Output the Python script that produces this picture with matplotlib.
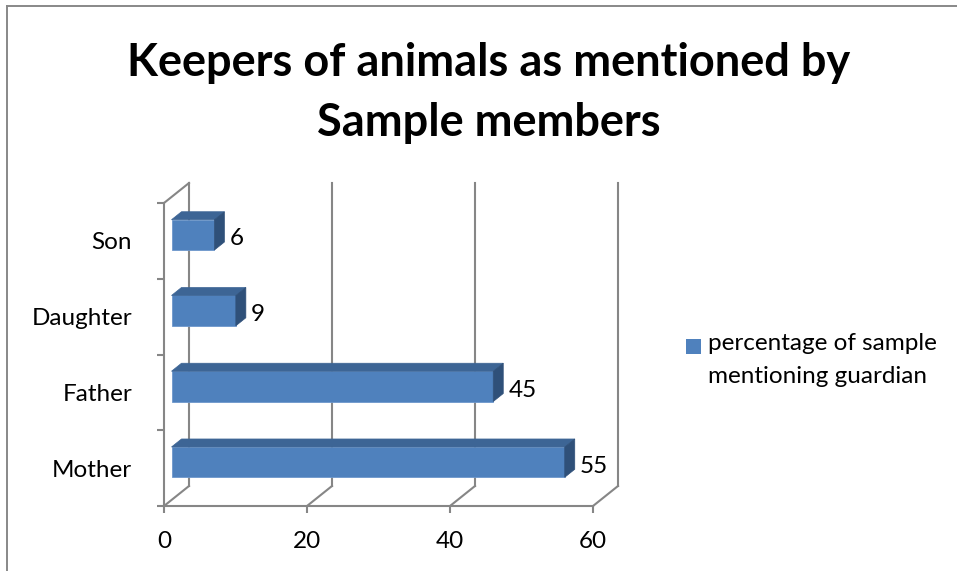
import matplotlib
matplotlib.use('Agg')
import matplotlib.pyplot as plt
from matplotlib.patches import Polygon, Rectangle
from matplotlib.lines import Line2D

categories = ['Mother', 'Father', 'Daughter', 'Son']
values = [55, 45, 9, 6]
series_name = 'percentage of sample\nmentioning guardian'
title = 'Keepers of animals as mentioned by\nSample members'
x_ticks = [0, 20, 40, 60]

plt.rcParams['font.family'] = ['Lato', 'DejaVu Sans']

GRID = '#868686'
FRONT = '#4F81BD'
TOP = '#3D6595'
SIDE = '#2F5079'

fig = plt.figure(figsize=(9.57, 5.71), dpi=100)
ax = fig.add_axes([164 / 957, 65 / 571, 429 / 957, 303 / 571])
ax.set_xlim(0, 60)
ax.set_ylim(0, len(categories))
ax.patch.set_visible(False)

# depth of the 3d box in data units (25 px right, 20 px up)
DX = 25 / (429 / 60)
DY = 20 / (303 / len(categories))

# back wall gridlines and floor diagonals
for xt in x_ticks:
    ax.add_line(Line2D([xt + DX, xt + DX], [DY, len(categories) + DY],
                       color=GRID, lw=1.5, clip_on=False, zorder=1))
    ax.add_line(Line2D([xt, xt + DX], [0, DY], color=GRID, lw=1.5,
                       clip_on=False, zorder=1))
ax.add_line(Line2D([0, DX], [len(categories), len(categories) + DY],
                   color=GRID, lw=1.5, clip_on=False, zorder=1))

# 3d bars
d0, d1 = 0.3, 0.7
bh = 0.4
for i, v in enumerate(values):
    x0 = DX * d0
    y0 = i + 0.5 - bh / 2 + DY * d0
    ex, ey = DX * (d1 - d0), DY * (d1 - d0)
    ax.add_patch(Rectangle((x0, y0), v, bh, facecolor=FRONT,
                           edgecolor='#6D97CC', lw=0.6, clip_on=False, zorder=3))
    ax.add_patch(Polygon([(x0, y0 + bh), (x0 + v, y0 + bh),
                          (x0 + v + ex, y0 + bh + ey), (x0 + ex, y0 + bh + ey)],
                         closed=True, facecolor=TOP, edgecolor=TOP, lw=0.5,
                         clip_on=False, zorder=3))
    ax.add_patch(Polygon([(x0 + v, y0), (x0 + v + ex, y0 + ey),
                          (x0 + v + ex, y0 + bh + ey), (x0 + v, y0 + bh)],
                         closed=True, facecolor=SIDE, edgecolor=SIDE, lw=0.5,
                         clip_on=False, zorder=3))
    ax.text(x0 + v + ex + 0.7, i + 0.5 + DY * 0.1, str(v), ha='left',
            va='center', fontsize=17.5, color='black', zorder=4)

# axes lines and ticks
for side in ['top', 'right']:
    ax.spines[side].set_visible(False)
for side in ['left', 'bottom']:
    ax.spines[side].set_color(GRID)
    ax.spines[side].set_linewidth(1.5)

ax.set_xticks(x_ticks)
ax.set_xticklabels([str(t) for t in x_ticks], fontsize=17.5)
ax.tick_params(axis='x', length=5, width=1.5, color=GRID, pad=13)

ax.set_yticks(range(len(categories) + 1))
ax.set_yticklabels([])
ax.set_yticks([i + 0.5 for i in range(len(categories))], minor=True)
ax.set_yticklabels(categories, minor=True, fontsize=17.5)
ax.tick_params(axis='y', which='major', length=5, width=1.5, color=GRID)
ax.tick_params(axis='y', which='minor', length=0, pad=23)

# title
fig.text(0.511, 1 - 93 / 571, title, ha='center', va='center', fontsize=32.5,
         fontweight='bold', linespacing=1.5)

# legend
fig.patches.append(Rectangle((686 / 957, 1 - 354 / 571), 15 / 957, 15 / 571,
                             facecolor=FRONT, edgecolor='none',
                             transform=fig.transFigure, figure=fig))
fig.text(708 / 957, 1 - 333 / 571, series_name, ha='left', va='top',
         fontsize=17.5, linespacing=1.7)

# outer border
fig.add_artist(Line2D([7 / 957, 7 / 957], [0, 1 - 6 / 571], color='#888888',
                      lw=1.4, transform=fig.transFigure))
fig.add_artist(Line2D([7 / 957, 1], [1 - 6 / 571, 1 - 6 / 571], color='#888888',
                      lw=1.4, transform=fig.transFigure))

fig.savefig('out.png', dpi=100)
plt.close(fig)
